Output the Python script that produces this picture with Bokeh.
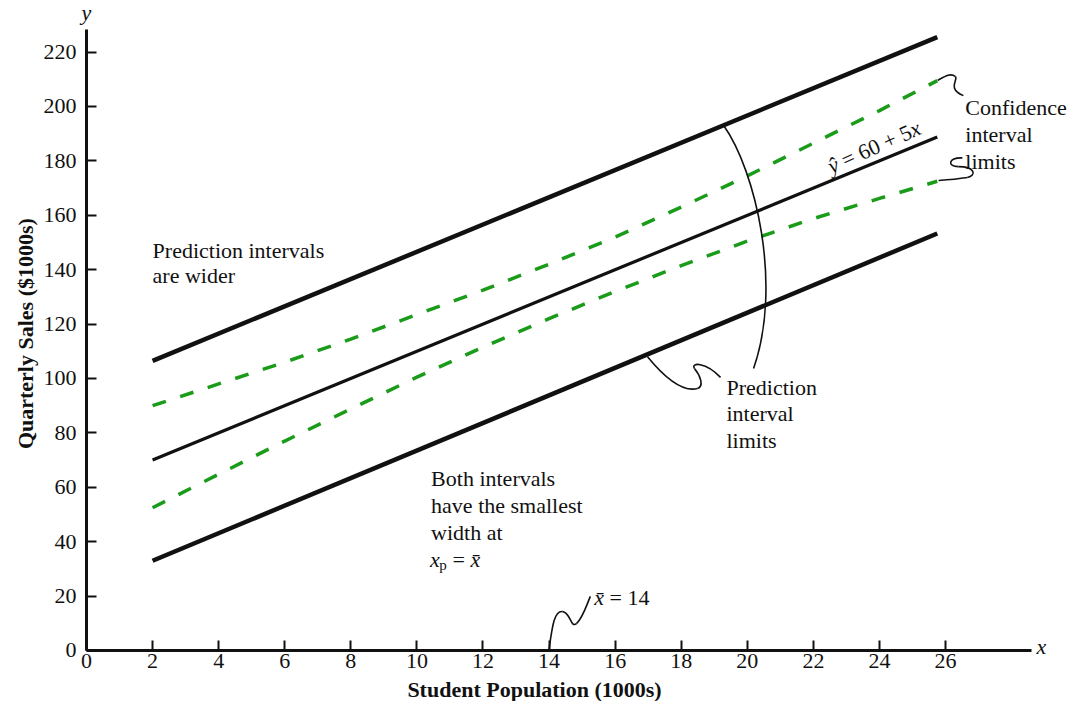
import math

from bokeh.embed import file_html
from bokeh.models import FixedTicker, Label, Range1d
from bokeh.plotting import figure
from bokeh.resources import INLINE

# ---- data -------------------------------------------------------------
# estimated regression line  y-hat = 60 + 5x
INTERCEPT = 60
SLOPE = 5
x_fit = [2, 25.75]
y_fit = [INTERCEPT + SLOPE * x for x in x_fit]

# confidence interval limits for the mean of y
x_band = [2, 4, 6, 8, 10, 12, 14, 16, 18, 20, 22, 24, 25.75]
ci_upper = [90.0, 98.0, 106.0, 114.5, 123.5, 132.5, 142.0, 152.0, 163.0,
            174.5, 186.5, 198.5, 209.5]
ci_lower = [52.5, 64.8, 77.0, 88.8, 100.5, 111.5, 122.0, 132.0, 141.5,
            150.5, 158.8, 166.2, 172.5]

# prediction interval limits for an individual y
x_pi = [2, 25.75]
pi_upper = [106.5, 225.5]
pi_lower = [33.0, 153.3]

x_ticks = [0, 2, 4, 6, 8, 10, 12, 14, 16, 18, 20, 22, 24, 26]
y_ticks = [0, 20, 40, 60, 80, 100, 120, 140, 160, 180, 200, 220]

x_mean = 14

# ---- styling ----------------------------------------------------------
INK = "#111111"
GREEN = "#1a9c1a"
SERIF = "Liberation Serif"
FS = "22px"

# the frame fills the whole canvas; the axes sit at x = 0 and y = 0
p = figure(
    width=1077, height=701,
    x_range=Range1d(-2.603, 29.994), y_range=Range1d(-18.75, 238.97),
    output_backend="svg", toolbar_location=None,
    min_border=0,
)
p.outline_line_color = None
p.grid.visible = False
p.background_fill_color = "white"
p.border_fill_color = "white"

for ax in (p.xaxis[0], p.yaxis[0]):
    ax.fixed_location = 0
    ax.axis_line_width = 3
    ax.axis_line_color = INK
    ax.major_tick_in = 10
    ax.major_tick_out = 0
    ax.major_tick_line_width = 2
    ax.major_tick_line_color = INK
    ax.minor_tick_line_color = None
    ax.major_label_text_font = SERIF
    ax.major_label_text_font_size = FS
    ax.major_label_text_color = INK
p.xaxis.bounds = (0, 28.6)
p.yaxis.bounds = (0, 228.3)
p.xaxis.ticker = FixedTicker(ticks=x_ticks)
p.yaxis.ticker = FixedTicker(ticks=y_ticks)
p.xaxis.major_label_standoff = 4
p.yaxis.major_label_standoff = 10

# ---- interval lines ---------------------------------------------------
p.line(x_pi, pi_upper, line_width=4.5, line_color=INK)
p.line(x_pi, pi_lower, line_width=4.5, line_color=INK)
p.line(x_fit, y_fit, line_width=3.2, line_color=INK)
p.line(x_band, ci_upper, line_width=3.5, line_color=GREEN, line_dash="14 15")
p.line(x_band, ci_lower, line_width=3.5, line_color=GREEN, line_dash="14 15")

# ---- leader curves (cubic Bezier segments) ----------------------------
leaders = [
    # arc spanning the prediction band
    (19.28, 193.1, 20.19, 103.7, 20.25, 176.5, 21.07, 134.2),
    # "Prediction interval limits" squiggle
    (16.98, 108.0, 18.49, 96.3, 17.52, 100.0, 18.04, 94.9),
    (18.49, 96.3, 18.40, 103.7, 18.70, 97.1, 18.58, 101.1),
    (18.40, 103.7, 19.19, 100.4, 18.28, 105.9, 18.73, 106.3),
    # x-bar squiggle
    (14.0, 0.5, 14.41, 14.3, 14.10, 9.2, 14.16, 14.7),
    (14.41, 14.3, 14.83, 9.9, 14.65, 14.0, 14.65, 8.1),
    (14.83, 9.9, 15.25, 19.9, 15.01, 11.8, 15.13, 16.5),
    # upper confidence limit squiggle
    (25.76, 209.6, 26.30, 211.0, 25.97, 211.0, 26.15, 212.5),
    (26.30, 211.0, 26.54, 204.0, 26.39, 209.9, 26.03, 206.6),
    # lower confidence limit squiggle
    (25.79, 172.8, 26.66, 173.9, 26.15, 173.1, 26.45, 173.5),
    (26.66, 173.9, 26.39, 177.9, 26.94, 174.6, 26.91, 177.9),
    (26.39, 177.9, 26.51, 181.1, 26.03, 177.9, 26.09, 181.3),
]
cols = list(zip(*leaders))
p.bezier(x0=list(cols[0]), y0=list(cols[1]), x1=list(cols[2]), y1=list(cols[3]),
         cx0=list(cols[4]), cy0=list(cols[5]), cx1=list(cols[6]), cy1=list(cols[7]),
         line_width=1.6, line_color=INK)


def note(x, y, text, size=FS, style="normal", weight="normal", angle=0.0,
         align="left", baseline="alphabetic", dx=0.0, dy=0.0):
    p.add_layout(Label(
        x=x, y=y, text=text, angle=angle,
        x_offset=dx, y_offset=dy,
        text_font=SERIF, text_font_size=size,
        text_font_style=style if weight == "normal" else "bold",
        text_color=INK, text_align=align, text_baseline=baseline,
    ))


# axis names
note(0.0, 234.5, "y", style="italic", align="center")
note(28.75, 1.6, "x", style="italic")
note(13.56, -14.3, "Student Population (1000s)", weight="bold",
     align="center", baseline="middle")
note(-1.85, 116.5, "Quarterly Sales ($1000s)", weight="bold",
     align="center", baseline="middle", angle=math.pi / 2)

# explanatory notes
note(2.0, 147.1, "Prediction intervals")
note(2.0, 137.9, "are wider")

note(10.43, 63.2, "Both intervals")
note(10.43, 53.3, "have the smallest")
note(10.43, 43.4, "width at")
note(10.40, 33.5, "x", style="italic")
note(10.68, 31.6, "p", size="15px")
note(11.08, 33.5, "=")
note(11.62, 33.5, "x\u0304", style="italic")

note(19.37, 96.8, "Prediction")
note(19.37, 87.0, "interval")
note(19.37, 77.2, "limits")

note(26.6, 199.6, "Confidence")
note(26.6, 189.7, "interval")
note(26.6, 179.8, "limits")

# x-bar marker text
note(15.37, 19.5, "x\u0304", style="italic")
note(15.83, 19.5, "= " + str(x_mean))

# equation written along the fitted line
theta = math.radians(24)
w1, w2 = 15.3, 74.3
note(22.46, 177.7, "\u0177", style="italic", angle=theta)
note(22.46, 177.7, "= 60 + 5", angle=theta,
     dx=w1 * math.cos(theta), dy=w1 * math.sin(theta))
note(22.46, 177.7, "x", style="italic", angle=theta,
     dx=(w1 + w2) * math.cos(theta), dy=(w1 + w2) * math.sin(theta))

open("out.html", "w").write(file_html(p, INLINE))
